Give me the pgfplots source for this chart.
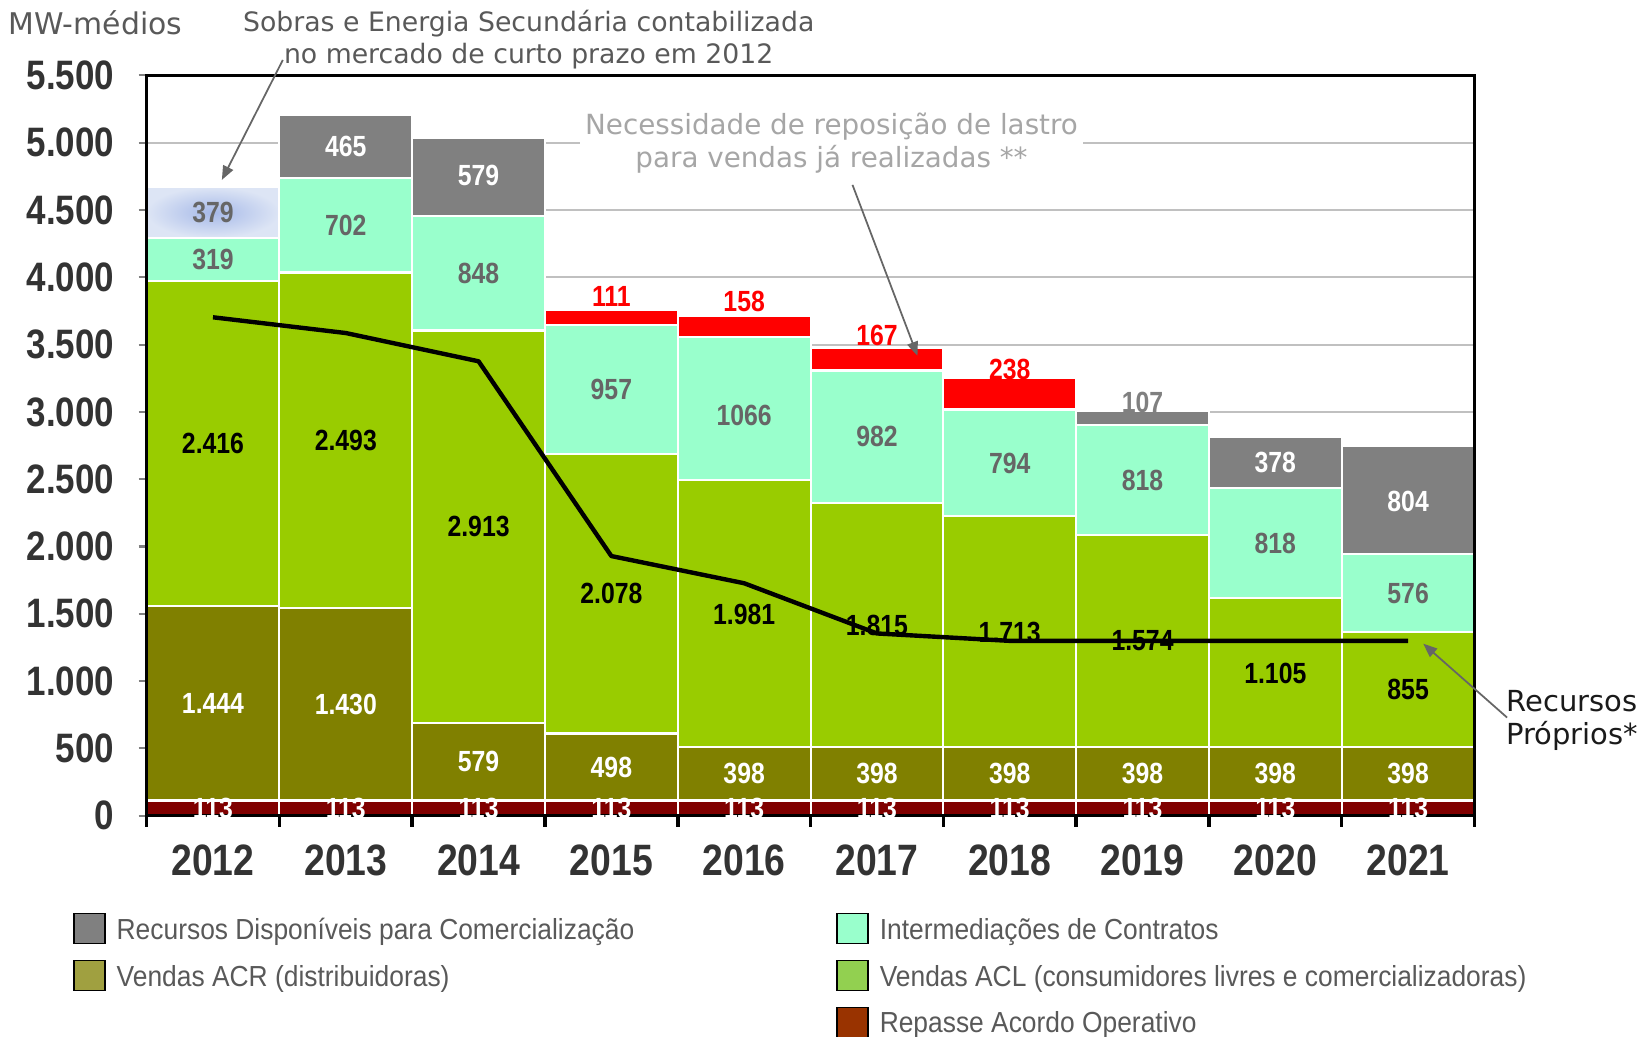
\documentclass[border=0pt]{standalone}
\usepackage{fontspec}
\setmainfont{Liberation Sans}
\newfontfamily\nar{Liberation Sans}[FakeStretch=0.85]
\newfontfamily\legf{Liberation Sans}[FakeStretch=0.91]
\newfontfamily\ann{DejaVu Sans}
\usepackage{pgfplots}
\pgfplotsset{compat=1.18}
\usetikzlibrary{arrows.meta}
\definecolor{cRep}{HTML}{800000}
\definecolor{cACR}{HTML}{808000}
\definecolor{cACL}{HTML}{99CC00}
\definecolor{cInt}{HTML}{99FFCC}
\definecolor{cGrey}{HTML}{808080}
\definecolor{cRed}{HTML}{FF0000}
\definecolor{sobIn}{HTML}{A6B9E8}
\definecolor{sobOut}{HTML}{DDE5F5}
\definecolor{gridc}{HTML}{C0C0C0}
\definecolor{lACR}{HTML}{A0A040}
\definecolor{lACL}{HTML}{92D050}
\definecolor{lRep}{HTML}{993300}
\definecolor{cLegT}{HTML}{595959}
\definecolor{cAnn}{HTML}{595959}
\definecolor{cNec}{HTML}{A6A6A6}
\definecolor{cArrow}{HTML}{666666}
\definecolor{cLab}{HTML}{666666}
\definecolor{cTick}{HTML}{333333}
\definecolor{cDark}{HTML}{1A1A1A}
\pgfplotsset{
  barlab/.style={draw=none, mark=none, nodes near coords, point meta=explicit symbolic,
    nodes near coords align={anchor=center},
    every node near coord/.append style={anchor=center, inner sep=0pt, font=\nar\bfseries\fontsize{8.3}{9}\selectfont, text=#1}},
  bars/.style={fill=#1, draw=white, line width=0.6pt},
}
\begin{document}
\begin{tikzpicture}
\useasboundingbox (0cm,0cm) rectangle (16.42cm,-10.37cm);
% ---------------- bars ----------------
\begin{axis}[
  at={(1.466cm,-8.157cm)}, anchor=south west,
  scale only axis, width=13.279cm, height=7.403cm,
  xmin=-0.5, xmax=9.5, ymin=0, ymax=5500, enlargelimits=false,
  ybar stacked, bar width=1,
  axis line style={draw=none}, tick style={draw=none},
  xtick=\empty, ytick={500,1000,...,5500}, yticklabel={\phantom{0}},
  ymajorgrids, major grid style={color=gridc, line width=0.6pt},
]
\addplot[bars=cRep] coordinates {(0,113)(1,113)(2,113)(3,113)(4,113)(5,113)(6,113)(7,113)(8,113)(9,113)};
\addplot[bars=cACR] coordinates {(0,1444)(1,1430)(2,579)(3,498)(4,398)(5,398)(6,398)(7,398)(8,398)(9,398)};
\addplot[bars=cACL] coordinates {(0,2416)(1,2493)(2,2913)(3,2078)(4,1981)(5,1815)(6,1713)(7,1574)(8,1105)(9,855)};
\addplot[bars=cInt] coordinates {(0,319)(1,702)(2,848)(3,957)(4,1066)(5,982)(6,794)(7,818)(8,818)(9,576)};
\addplot[bars=cGrey] coordinates {(0,0)(1,465)(2,579)(3,0)(4,0)(5,0)(6,0)(7,107)(8,378)(9,804)};
\addplot[bars=cRed] coordinates {(0,0)(1,0)(2,0)(3,111)(4,158)(5,167)(6,238)(7,0)(8,0)(9,0)};
\addplot[draw=white, line width=0.6pt, inner color=sobIn, outer color=sobOut] coordinates {(0,379)};
\end{axis}
% ---------------- overlay: axes, line, labels, legend ----------------
\begin{axis}[
  at={(1.466cm,-8.157cm)}, anchor=south west,
  scale only axis, width=13.279cm, height=7.403cm,
  xmin=-0.5, xmax=9.5, ymin=0, ymax=5500, enlargelimits=false, clip=false,
  axis line style={black, line width=0.8pt},
  tick align=outside, tick pos=left,
  xtick={0,...,9}, xticklabels={2012,2013,2014,2015,2016,2017,2018,2019,2020,2021},
  major x tick style={draw=none},
  minor xtick={-0.5,0.5,...,9.5}, minor x tick style={black, line width=1pt}, minor tick length=0.11cm,
  ytick={0,500,...,5500},
  yticklabels={0,500,1.000,1.500,2.000,2.500,3.000,3.500,4.000,4.500,5.000,5.500},
  major y tick style={gray, line width=0.6pt}, major tick length=0.08cm,
  xticklabel style={font=\nar\bfseries\fontsize{12.5}{14}\selectfont, text=cTick, yshift=-0.09cm},
  yticklabel style={font=\nar\bfseries\fontsize{11.7}{13}\selectfont, text=cTick, xshift=-0.12cm},
  legend columns=2,
  legend image code/.code={\fill[#1] (0cm,-0.123cm) rectangle (0.31cm,0.177cm);},
  legend style={draw=none, fill=none, at={(-0.0552,-0.1314)}, anchor=north west,
    inner sep=0pt, outer sep=0pt, font=\legf\fontsize{8.25}{9}\selectfont, text=cLegT,
    row sep=0.152cm, nodes={inner sep=0pt}, cells={anchor=west},
    /tikz/column 1/.style={column sep=0.11cm},
    /tikz/column 2/.style={column sep=2.02cm},
    /tikz/column 3/.style={column sep=0.11cm}},
]
\addlegendimage{fill=cGrey}\addlegendentry{Recursos Disponíveis para Comercialização}
\addlegendimage{fill=cInt}\addlegendentry{Intermediações de Contratos}
\addlegendimage{fill=lACR}\addlegendentry{Vendas ACR (distribuidoras)}
\addlegendimage{fill=lACL}\addlegendentry{Vendas ACL (consumidores livres e comercializadoras)}
\addlegendimage{empty legend}\addlegendentry{}
\addlegendimage{fill=lRep}\addlegendentry{Repasse Acordo Operativo}
\addplot[black, line width=1.25pt, mark=none, line join=round, forget plot] coordinates {(0,3703)(1,3586)(2,3376)(3,1929)(4,1727)(5,1354)(6,1299)(7,1299)(8,1299)(9,1299)};
% labels
\addplot[barlab=white, forget plot] coordinates {(0,50)[113](1,50)[113](2,50)[113](3,50)[113](4,50)[113](5,50)[113](6,50)[113](7,50)[113](8,50)[113](9,50)[113]};
\addplot[barlab=white, forget plot] coordinates {(0,835)[1.444](1,828)[1.430](2,402)[579](3,362)[498](4,312)[398](5,312)[398](6,312)[398](7,312)[398](8,312)[398](9,312)[398]};
\addplot[barlab=white, forget plot] coordinates {(1,4975)[465](2,4760)[579](8,2623)[378](9,2335)[804]};
\addplot[barlab=black, forget plot] coordinates {(0,2765)[2.416](1,2789)[2.493](2,2150)[2.913](3,1650)[2.078](4,1497)[1.981](5,1416)[1.815](6,1362)[1.713](7,1298)[1.574](8,1060)[1.105](9,935)[855]};
\addplot[barlab=cLab, forget plot] coordinates {(0,4132)[319](1,4387)[702](2,4029)[848](3,3167)[957](4,2975)[1066](5,2817)[982](6,2617)[794](7,2490)[818](8,2025)[818](9,1654)[576](0,4481)[379]};
\addplot[barlab=cGrey, forget plot] coordinates {(7,3073)[107]};
\addplot[barlab=cRed, forget plot] coordinates {(3,3858)[111](4,3820)[158](5,3571)[167](6,3314)[238]};
\end{axis}
% ---------------- annotations ----------------
\begin{scope}[x=0.01cm, y=-0.01cm]
\node[anchor=west, inner sep=0pt, font=\ann\fontsize{8.5}{9.4}\selectfont, text=cAnn] at (8,23) {MW-médios};
\node[inner sep=0pt, font=\ann\fontsize{7.6}{9}\selectfont, text=cAnn] at (529,24) {Sobras e Energia Secundária contabilizada};
\node[inner sep=0pt, font=\ann\fontsize{7.6}{9}\selectfont, text=cAnn] at (529,56) {no mercado de curto prazo em 2012};
\draw[cArrow, line width=0.5pt, -{Triangle[length=0.14cm,width=0.11cm]}] (283,60) -- (222,180);
\node[align=center, fill=white, inner sep=1.5pt, font=\ann\fontsize{7.9}{9.4}\selectfont, text=cNec] at (832,143) {Necessidade de reposição de lastro\\para vendas já realizadas **};
\draw[cArrow, line width=0.5pt, -{Triangle[length=0.14cm,width=0.11cm]}] (853,185) -- (918,356);
\node[align=center, inner sep=0pt, font=\ann\fontsize{8.25}{9.4}\selectfont, text=cDark] at (1573,721) {Recursos\\Próprios*};
\draw[cArrow, line width=0.5pt, -{Triangle[length=0.14cm,width=0.11cm]}] (1508,718) -- (1424,644);
\end{scope}
\end{tikzpicture}
\end{document}
